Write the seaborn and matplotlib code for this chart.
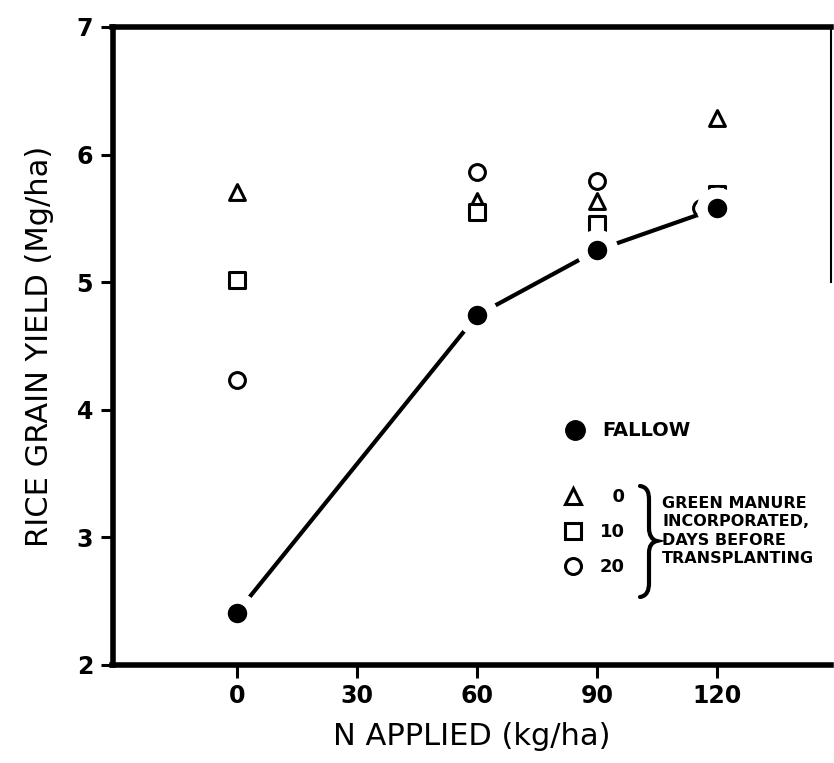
import matplotlib
matplotlib.use("Agg")
import matplotlib.pyplot as plt
import seaborn as sns
from matplotlib.lines import Line2D
from matplotlib.path import Path
from matplotlib.patches import PathPatch

# ---- data ----
n_applied = [0, 60, 90, 120]
fallow = [2.41, 4.74, 5.25, 5.58]
gm_0days = [5.71, 5.64, 5.64, 6.29]
gm_10days = [5.02, 5.55, 5.46, 5.69]
n_applied_20 = [0, 60, 90, 116]
gm_20days = [4.23, 5.86, 5.79, 5.58]
x_ticks = [0, 30, 60, 90, 120]
y_ticks = [2, 3, 4, 5, 6, 7]
legend_days = ["\u20070", "10", "20"]
legend_note = "GREEN MANURE\nINCORPORATED,\nDAYS BEFORE\nTRANSPLANTING"

sns.set_theme(style="white")
plt.rcParams["font.family"] = ["DejaVu Sans"]
plt.rcParams.update({"text.color": "black", "axes.labelcolor": "black",
                     "xtick.color": "black", "ytick.color": "black"})

W, H = 834, 763
fig = plt.figure(figsize=(W / 100, H / 100), dpi=100)
L, R, T, B = 112.5, 831, 27, 665
ax = fig.add_axes([L / W, (H - B) / H, (R - L) / W, (B - T) / H])

open_kw = dict(color="white", edgecolor="black", linewidth=2.2, s=130, ax=ax, zorder=2, legend=False)
sns.scatterplot(x=n_applied, y=gm_0days, marker="^", **open_kw)
sns.scatterplot(x=n_applied, y=gm_10days, marker="s", **open_kw)
sns.scatterplot(x=n_applied_20, y=gm_20days, marker="o", **open_kw)

sns.lineplot(x=n_applied, y=fallow, color="black", linewidth=3, marker="o",
             markersize=22, markerfacecolor="black", markeredgecolor="white",
             markeredgewidth=8, ax=ax, zorder=3, legend=False)

ax.set_xlim(-31.1, 148.5)
ax.set_ylim(2, 7)
ax.set_xticks(x_ticks)
ax.set_yticks(y_ticks)
ax.set_xticklabels([str(v) for v in x_ticks])
ax.set_yticklabels([str(v) for v in y_ticks])
ax.tick_params(axis="both", direction="out", length=9, width=2.2, color="black",
               labelcolor="black", labelsize=17, pad=5, bottom=True, left=True)
for lbl in ax.get_xticklabels() + ax.get_yticklabels():
    lbl.set_fontweight("bold")

for side in ["left", "bottom", "top"]:
    ax.spines[side].set_linewidth(4)
    ax.spines[side].set_color("black")
ax.spines["right"].set_linewidth(1.5)
ax.spines["right"].set_color("black")
ax.spines["right"].set_bounds(5.0, 7)

ax.set_xlabel("N APPLIED (kg/ha)", fontsize=22, labelpad=10, color="black")
ax.set_ylabel("RICE GRAIN YIELD (Mg/ha)", fontsize=22, labelpad=16, color="black")

def fx(px):
    return (px - L) / (R - L)

def fy(py):
    return (B - py) / (B - T)

leg1 = ax.legend(handles=[Line2D([], [], marker="o", ls="none", color="black", markersize=14)],
                 labels=["FALLOW"], loc="center left", bbox_to_anchor=(fx(565), fy(431)),
                 frameon=False, prop=dict(weight="bold", size=14), handlelength=1.0,
                 handletextpad=0.9, borderpad=0, borderaxespad=0, labelcolor="black")
ax.add_artist(leg1)

mk = dict(ls="none", markerfacecolor="white", markeredgecolor="black", markeredgewidth=2.2, markersize=11.5)
handles2 = [Line2D([], [], marker="^", **mk), Line2D([], [], marker="s", **mk), Line2D([], [], marker="o", **mk)]
ax.legend(handles=handles2, labels=legend_days, loc="center left",
          bbox_to_anchor=(fx(564), fy(532)), frameon=False,
          prop=dict(weight="bold", size=13), handlelength=1.0, handletextpad=1.0,
          labelspacing=0.95, borderpad=0, borderaxespad=0, labelcolor="black")

ax.text(fx(662), fy(531), legend_note, transform=ax.transAxes, ha="left", va="center",
        fontsize=11.5, fontweight="bold", linespacing=1.3, color="black")

# curly brace (decoration)
pts = [(640, 486), (647, 487), (649, 492), (649, 500), (649, 528), (649, 535), (652, 540), (657, 541),
       (652, 542), (649, 546), (649, 553), (649, 583), (649, 590), (647, 596), (640, 597)]
codes = [Path.MOVETO, Path.CURVE4, Path.CURVE4, Path.CURVE4, Path.LINETO, Path.CURVE4, Path.CURVE4,
         Path.CURVE4, Path.CURVE4, Path.CURVE4, Path.CURVE4, Path.LINETO, Path.CURVE4, Path.CURVE4, Path.CURVE4]
verts = [(fx(a), fy(b)) for a, b in pts]
ax.add_patch(PathPatch(Path(verts, codes), transform=ax.transAxes, fill=False, lw=3,
                       edgecolor="black", capstyle="round", clip_on=False))

fig.savefig("out.png", dpi=100, facecolor="white")
